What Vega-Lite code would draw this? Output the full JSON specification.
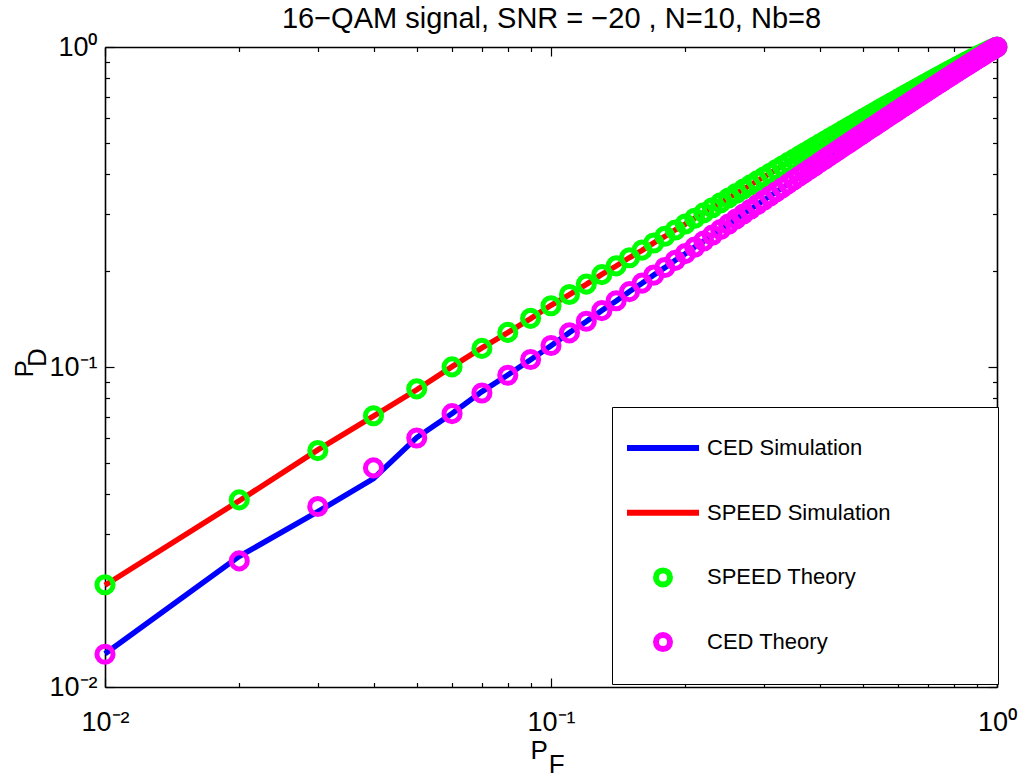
{
  "$schema": "https://vega.github.io/schema/vega-lite/v6.json",
  "width": 892,
  "height": 640,
  "autosize": {"type": "none"},
  "padding": {"left": 105, "top": 47, "right": 25, "bottom": 88},
  "background": "white",
  "config": {"view": {"stroke": null}, "font": "Liberation Sans"},
  "datasets": {
    "sim": [
      {"pf":0.01,"pd":0.0127,"series":"CED Simulation"},{"pf":0.02,"pd":0.0256,"series":"CED Simulation"},{"pf":0.03,"pd":0.0353,"series":"CED Simulation"},{"pf":0.04,"pd":0.0448,"series":"CED Simulation"},{"pf":0.05,"pd":0.0602,"series":"CED Simulation"},{"pf":0.06,"pd":0.0716,"series":"CED Simulation"},{"pf":0.07,"pd":0.0838,"series":"CED Simulation"},{"pf":0.08,"pd":0.0944,"series":"CED Simulation"},{"pf":0.09,"pd":0.1053,"series":"CED Simulation"},{"pf":0.1,"pd":0.1166,"series":"CED Simulation"},
      {"pf":0.11,"pd":0.1282,"series":"CED Simulation"},{"pf":0.12,"pd":0.1387,"series":"CED Simulation"},{"pf":0.13,"pd":0.1502,"series":"CED Simulation"},{"pf":0.14,"pd":0.1608,"series":"CED Simulation"},{"pf":0.15,"pd":0.1722,"series":"CED Simulation"},{"pf":0.16,"pd":0.1827,"series":"CED Simulation"},{"pf":0.17,"pd":0.194,"series":"CED Simulation"},{"pf":0.18,"pd":0.2044,"series":"CED Simulation"},{"pf":0.19,"pd":0.2156,"series":"CED Simulation"},{"pf":0.2,"pd":0.2259,"series":"CED Simulation"},
      {"pf":0.21,"pd":0.2371,"series":"CED Simulation"},{"pf":0.22,"pd":0.2473,"series":"CED Simulation"},{"pf":0.23,"pd":0.2585,"series":"CED Simulation"},{"pf":0.24,"pd":0.2686,"series":"CED Simulation"},{"pf":0.25,"pd":0.2797,"series":"CED Simulation"},{"pf":0.26,"pd":0.2898,"series":"CED Simulation"},{"pf":0.27,"pd":0.3008,"series":"CED Simulation"},{"pf":0.28,"pd":0.3108,"series":"CED Simulation"},{"pf":0.29,"pd":0.3218,"series":"CED Simulation"},{"pf":0.3,"pd":0.3318,"series":"CED Simulation"},
      {"pf":0.31,"pd":0.3427,"series":"CED Simulation"},{"pf":0.32,"pd":0.3526,"series":"CED Simulation"},{"pf":0.33,"pd":0.3634,"series":"CED Simulation"},{"pf":0.34,"pd":0.3733,"series":"CED Simulation"},{"pf":0.35,"pd":0.3841,"series":"CED Simulation"},{"pf":0.36,"pd":0.3939,"series":"CED Simulation"},{"pf":0.37,"pd":0.4047,"series":"CED Simulation"},{"pf":0.38,"pd":0.4144,"series":"CED Simulation"},{"pf":0.39,"pd":0.4252,"series":"CED Simulation"},{"pf":0.4,"pd":0.4349,"series":"CED Simulation"},
      {"pf":0.41,"pd":0.4456,"series":"CED Simulation"},{"pf":0.42,"pd":0.4552,"series":"CED Simulation"},{"pf":0.43,"pd":0.4659,"series":"CED Simulation"},{"pf":0.44,"pd":0.4754,"series":"CED Simulation"},{"pf":0.45,"pd":0.4861,"series":"CED Simulation"},{"pf":0.46,"pd":0.4955,"series":"CED Simulation"},{"pf":0.47,"pd":0.5062,"series":"CED Simulation"},{"pf":0.48,"pd":0.5156,"series":"CED Simulation"},{"pf":0.49,"pd":0.5262,"series":"CED Simulation"},{"pf":0.5,"pd":0.5355,"series":"CED Simulation"},
      {"pf":0.51,"pd":0.5461,"series":"CED Simulation"},{"pf":0.52,"pd":0.5553,"series":"CED Simulation"},{"pf":0.53,"pd":0.5659,"series":"CED Simulation"},{"pf":0.54,"pd":0.5751,"series":"CED Simulation"},{"pf":0.55,"pd":0.5857,"series":"CED Simulation"},{"pf":0.56,"pd":0.5948,"series":"CED Simulation"},{"pf":0.57,"pd":0.6053,"series":"CED Simulation"},{"pf":0.58,"pd":0.6144,"series":"CED Simulation"},{"pf":0.59,"pd":0.6249,"series":"CED Simulation"},{"pf":0.6,"pd":0.6339,"series":"CED Simulation"},
      {"pf":0.61,"pd":0.6444,"series":"CED Simulation"},{"pf":0.62,"pd":0.6533,"series":"CED Simulation"},{"pf":0.63,"pd":0.6638,"series":"CED Simulation"},{"pf":0.64,"pd":0.6727,"series":"CED Simulation"},{"pf":0.65,"pd":0.6831,"series":"CED Simulation"},{"pf":0.66,"pd":0.6919,"series":"CED Simulation"},{"pf":0.67,"pd":0.7023,"series":"CED Simulation"},{"pf":0.68,"pd":0.7111,"series":"CED Simulation"},{"pf":0.69,"pd":0.7214,"series":"CED Simulation"},{"pf":0.7,"pd":0.7301,"series":"CED Simulation"},
      {"pf":0.71,"pd":0.7403,"series":"CED Simulation"},{"pf":0.72,"pd":0.7491,"series":"CED Simulation"},{"pf":0.73,"pd":0.7592,"series":"CED Simulation"},{"pf":0.74,"pd":0.7679,"series":"CED Simulation"},{"pf":0.75,"pd":0.7779,"series":"CED Simulation"},{"pf":0.76,"pd":0.7866,"series":"CED Simulation"},{"pf":0.77,"pd":0.7966,"series":"CED Simulation"},{"pf":0.78,"pd":0.8053,"series":"CED Simulation"},{"pf":0.79,"pd":0.8152,"series":"CED Simulation"},{"pf":0.8,"pd":0.8238,"series":"CED Simulation"},
      {"pf":0.81,"pd":0.8336,"series":"CED Simulation"},{"pf":0.82,"pd":0.8422,"series":"CED Simulation"},{"pf":0.83,"pd":0.8519,"series":"CED Simulation"},{"pf":0.84,"pd":0.8604,"series":"CED Simulation"},{"pf":0.85,"pd":0.8701,"series":"CED Simulation"},{"pf":0.86,"pd":0.8786,"series":"CED Simulation"},{"pf":0.87,"pd":0.8882,"series":"CED Simulation"},{"pf":0.88,"pd":0.8966,"series":"CED Simulation"},{"pf":0.89,"pd":0.9061,"series":"CED Simulation"},{"pf":0.9,"pd":0.9145,"series":"CED Simulation"},
      {"pf":0.91,"pd":0.9239,"series":"CED Simulation"},{"pf":0.92,"pd":0.9322,"series":"CED Simulation"},{"pf":0.93,"pd":0.9414,"series":"CED Simulation"},{"pf":0.94,"pd":0.9496,"series":"CED Simulation"},{"pf":0.95,"pd":0.9587,"series":"CED Simulation"},{"pf":0.96,"pd":0.9668,"series":"CED Simulation"},{"pf":0.97,"pd":0.9757,"series":"CED Simulation"},{"pf":0.98,"pd":0.9836,"series":"CED Simulation"},{"pf":0.99,"pd":0.9922,"series":"CED Simulation"},{"pf":1,"pd":1,"series":"CED Simulation"},
      {"pf":0.01,"pd":0.0208,"series":"SPEED Simulation"},{"pf":0.02,"pd":0.0382,"series":"SPEED Simulation"},{"pf":0.03,"pd":0.0551,"series":"SPEED Simulation"},{"pf":0.04,"pd":0.0702,"series":"SPEED Simulation"},{"pf":0.05,"pd":0.0849,"series":"SPEED Simulation"},{"pf":0.06,"pd":0.1003,"series":"SPEED Simulation"},{"pf":0.07,"pd":0.1147,"series":"SPEED Simulation"},{"pf":0.08,"pd":0.1281,"series":"SPEED Simulation"},{"pf":0.09,"pd":0.1416,"series":"SPEED Simulation"},{"pf":0.1,"pd":0.1559,"series":"SPEED Simulation"},
      {"pf":0.11,"pd":0.1683,"series":"SPEED Simulation"},{"pf":0.12,"pd":0.1812,"series":"SPEED Simulation"},{"pf":0.13,"pd":0.1947,"series":"SPEED Simulation"},{"pf":0.14,"pd":0.2068,"series":"SPEED Simulation"},{"pf":0.15,"pd":0.2199,"series":"SPEED Simulation"},{"pf":0.16,"pd":0.2315,"series":"SPEED Simulation"},{"pf":0.17,"pd":0.2443,"series":"SPEED Simulation"},{"pf":0.18,"pd":0.2558,"series":"SPEED Simulation"},{"pf":0.19,"pd":0.2684,"series":"SPEED Simulation"},{"pf":0.2,"pd":0.2796,"series":"SPEED Simulation"},
      {"pf":0.21,"pd":0.2918,"series":"SPEED Simulation"},{"pf":0.22,"pd":0.3029,"series":"SPEED Simulation"},{"pf":0.23,"pd":0.3149,"series":"SPEED Simulation"},{"pf":0.24,"pd":0.3258,"series":"SPEED Simulation"},{"pf":0.25,"pd":0.3376,"series":"SPEED Simulation"},{"pf":0.26,"pd":0.3483,"series":"SPEED Simulation"},{"pf":0.27,"pd":0.3599,"series":"SPEED Simulation"},{"pf":0.28,"pd":0.3704,"series":"SPEED Simulation"},{"pf":0.29,"pd":0.3819,"series":"SPEED Simulation"},{"pf":0.3,"pd":0.3922,"series":"SPEED Simulation"},
      {"pf":0.31,"pd":0.4035,"series":"SPEED Simulation"},{"pf":0.32,"pd":0.4137,"series":"SPEED Simulation"},{"pf":0.33,"pd":0.4248,"series":"SPEED Simulation"},{"pf":0.34,"pd":0.4349,"series":"SPEED Simulation"},{"pf":0.35,"pd":0.4458,"series":"SPEED Simulation"},{"pf":0.36,"pd":0.4557,"series":"SPEED Simulation"},{"pf":0.37,"pd":0.4666,"series":"SPEED Simulation"},{"pf":0.38,"pd":0.4763,"series":"SPEED Simulation"},{"pf":0.39,"pd":0.4871,"series":"SPEED Simulation"},{"pf":0.4,"pd":0.4966,"series":"SPEED Simulation"},
      {"pf":0.41,"pd":0.5073,"series":"SPEED Simulation"},{"pf":0.42,"pd":0.5167,"series":"SPEED Simulation"},{"pf":0.43,"pd":0.5273,"series":"SPEED Simulation"},{"pf":0.44,"pd":0.5365,"series":"SPEED Simulation"},{"pf":0.45,"pd":0.547,"series":"SPEED Simulation"},{"pf":0.46,"pd":0.5561,"series":"SPEED Simulation"},{"pf":0.47,"pd":0.5664,"series":"SPEED Simulation"},{"pf":0.48,"pd":0.5754,"series":"SPEED Simulation"},{"pf":0.49,"pd":0.5856,"series":"SPEED Simulation"},{"pf":0.5,"pd":0.5946,"series":"SPEED Simulation"},
      {"pf":0.51,"pd":0.6047,"series":"SPEED Simulation"},{"pf":0.52,"pd":0.6135,"series":"SPEED Simulation"},{"pf":0.53,"pd":0.6234,"series":"SPEED Simulation"},{"pf":0.54,"pd":0.6321,"series":"SPEED Simulation"},{"pf":0.55,"pd":0.6419,"series":"SPEED Simulation"},{"pf":0.56,"pd":0.6506,"series":"SPEED Simulation"},{"pf":0.57,"pd":0.6603,"series":"SPEED Simulation"},{"pf":0.58,"pd":0.6688,"series":"SPEED Simulation"},{"pf":0.59,"pd":0.6785,"series":"SPEED Simulation"},{"pf":0.6,"pd":0.6869,"series":"SPEED Simulation"},
      {"pf":0.61,"pd":0.6964,"series":"SPEED Simulation"},{"pf":0.62,"pd":0.7047,"series":"SPEED Simulation"},{"pf":0.63,"pd":0.7141,"series":"SPEED Simulation"},{"pf":0.64,"pd":0.7223,"series":"SPEED Simulation"},{"pf":0.65,"pd":0.7316,"series":"SPEED Simulation"},{"pf":0.66,"pd":0.7397,"series":"SPEED Simulation"},{"pf":0.67,"pd":0.749,"series":"SPEED Simulation"},{"pf":0.68,"pd":0.757,"series":"SPEED Simulation"},{"pf":0.69,"pd":0.7661,"series":"SPEED Simulation"},{"pf":0.7,"pd":0.774,"series":"SPEED Simulation"},
      {"pf":0.71,"pd":0.783,"series":"SPEED Simulation"},{"pf":0.72,"pd":0.7908,"series":"SPEED Simulation"},{"pf":0.73,"pd":0.7997,"series":"SPEED Simulation"},{"pf":0.74,"pd":0.8074,"series":"SPEED Simulation"},{"pf":0.75,"pd":0.8162,"series":"SPEED Simulation"},{"pf":0.76,"pd":0.8238,"series":"SPEED Simulation"},{"pf":0.77,"pd":0.8325,"series":"SPEED Simulation"},{"pf":0.78,"pd":0.84,"series":"SPEED Simulation"},{"pf":0.79,"pd":0.8485,"series":"SPEED Simulation"},{"pf":0.8,"pd":0.8559,"series":"SPEED Simulation"},
      {"pf":0.81,"pd":0.8643,"series":"SPEED Simulation"},{"pf":0.82,"pd":0.8716,"series":"SPEED Simulation"},{"pf":0.83,"pd":0.8799,"series":"SPEED Simulation"},{"pf":0.84,"pd":0.8871,"series":"SPEED Simulation"},{"pf":0.85,"pd":0.8953,"series":"SPEED Simulation"},{"pf":0.86,"pd":0.9023,"series":"SPEED Simulation"},{"pf":0.87,"pd":0.9104,"series":"SPEED Simulation"},{"pf":0.88,"pd":0.9173,"series":"SPEED Simulation"},{"pf":0.89,"pd":0.9253,"series":"SPEED Simulation"},{"pf":0.9,"pd":0.932,"series":"SPEED Simulation"},
      {"pf":0.91,"pd":0.9398,"series":"SPEED Simulation"},{"pf":0.92,"pd":0.9466,"series":"SPEED Simulation"},{"pf":0.93,"pd":0.9541,"series":"SPEED Simulation"},{"pf":0.94,"pd":0.9607,"series":"SPEED Simulation"},{"pf":0.95,"pd":0.968,"series":"SPEED Simulation"},{"pf":0.96,"pd":0.9744,"series":"SPEED Simulation"},{"pf":0.97,"pd":0.9814,"series":"SPEED Simulation"},{"pf":0.98,"pd":0.9876,"series":"SPEED Simulation"},{"pf":0.99,"pd":0.9942,"series":"SPEED Simulation"},{"pf":1,"pd":1,"series":"SPEED Simulation"}
    ],
    "theory": [
      {"pf":0.01,"pd":0.02087,"series":"SPEED Theory"},{"pf":0.02,"pd":0.03843,"series":"SPEED Theory"},{"pf":0.03,"pd":0.0548,"series":"SPEED Theory"},{"pf":0.04,"pd":0.07041,"series":"SPEED Theory"},{"pf":0.05,"pd":0.08547,"series":"SPEED Theory"},{"pf":0.06,"pd":0.10009,"series":"SPEED Theory"},{"pf":0.07,"pd":0.11434,"series":"SPEED Theory"},{"pf":0.08,"pd":0.12828,"series":"SPEED Theory"},{"pf":0.09,"pd":0.14194,"series":"SPEED Theory"},{"pf":0.1,"pd":0.15536,"series":"SPEED Theory"},
      {"pf":0.11,"pd":0.16856,"series":"SPEED Theory"},{"pf":0.12,"pd":0.18156,"series":"SPEED Theory"},{"pf":0.13,"pd":0.19437,"series":"SPEED Theory"},{"pf":0.14,"pd":0.20701,"series":"SPEED Theory"},{"pf":0.15,"pd":0.2195,"series":"SPEED Theory"},{"pf":0.16,"pd":0.23183,"series":"SPEED Theory"},{"pf":0.17,"pd":0.24403,"series":"SPEED Theory"},{"pf":0.18,"pd":0.2561,"series":"SPEED Theory"},{"pf":0.19,"pd":0.26803,"series":"SPEED Theory"},{"pf":0.2,"pd":0.27985,"series":"SPEED Theory"},
      {"pf":0.21,"pd":0.29156,"series":"SPEED Theory"},{"pf":0.22,"pd":0.30315,"series":"SPEED Theory"},{"pf":0.23,"pd":0.31465,"series":"SPEED Theory"},{"pf":0.24,"pd":0.32604,"series":"SPEED Theory"},{"pf":0.25,"pd":0.33733,"series":"SPEED Theory"},{"pf":0.26,"pd":0.34854,"series":"SPEED Theory"},{"pf":0.27,"pd":0.35965,"series":"SPEED Theory"},{"pf":0.28,"pd":0.37067,"series":"SPEED Theory"},{"pf":0.29,"pd":0.38161,"series":"SPEED Theory"},{"pf":0.3,"pd":0.39247,"series":"SPEED Theory"},
      {"pf":0.31,"pd":0.40323,"series":"SPEED Theory"},{"pf":0.32,"pd":0.41394,"series":"SPEED Theory"},{"pf":0.33,"pd":0.42456,"series":"SPEED Theory"},{"pf":0.34,"pd":0.43511,"series":"SPEED Theory"},{"pf":0.35,"pd":0.44558,"series":"SPEED Theory"},{"pf":0.36,"pd":0.45599,"series":"SPEED Theory"},{"pf":0.37,"pd":0.46632,"series":"SPEED Theory"},{"pf":0.38,"pd":0.47659,"series":"SPEED Theory"},{"pf":0.39,"pd":0.4868,"series":"SPEED Theory"},{"pf":0.4,"pd":0.49693,"series":"SPEED Theory"},
      {"pf":0.41,"pd":0.507,"series":"SPEED Theory"},{"pf":0.42,"pd":0.51701,"series":"SPEED Theory"},{"pf":0.43,"pd":0.52695,"series":"SPEED Theory"},{"pf":0.44,"pd":0.53684,"series":"SPEED Theory"},{"pf":0.45,"pd":0.54667,"series":"SPEED Theory"},{"pf":0.46,"pd":0.55643,"series":"SPEED Theory"},{"pf":0.47,"pd":0.56614,"series":"SPEED Theory"},{"pf":0.48,"pd":0.57579,"series":"SPEED Theory"},{"pf":0.49,"pd":0.58538,"series":"SPEED Theory"},{"pf":0.5,"pd":0.59491,"series":"SPEED Theory"},
      {"pf":0.51,"pd":0.60439,"series":"SPEED Theory"},{"pf":0.52,"pd":0.61381,"series":"SPEED Theory"},{"pf":0.53,"pd":0.62318,"series":"SPEED Theory"},{"pf":0.54,"pd":0.6325,"series":"SPEED Theory"},{"pf":0.55,"pd":0.64175,"series":"SPEED Theory"},{"pf":0.56,"pd":0.65096,"series":"SPEED Theory"},{"pf":0.57,"pd":0.66012,"series":"SPEED Theory"},{"pf":0.58,"pd":0.66921,"series":"SPEED Theory"},{"pf":0.59,"pd":0.67827,"series":"SPEED Theory"},{"pf":0.6,"pd":0.68726,"series":"SPEED Theory"},
      {"pf":0.61,"pd":0.69621,"series":"SPEED Theory"},{"pf":0.62,"pd":0.70509,"series":"SPEED Theory"},{"pf":0.63,"pd":0.71393,"series":"SPEED Theory"},{"pf":0.64,"pd":0.72272,"series":"SPEED Theory"},{"pf":0.65,"pd":0.73146,"series":"SPEED Theory"},{"pf":0.66,"pd":0.74014,"series":"SPEED Theory"},{"pf":0.67,"pd":0.74878,"series":"SPEED Theory"},{"pf":0.68,"pd":0.75736,"series":"SPEED Theory"},{"pf":0.69,"pd":0.76589,"series":"SPEED Theory"},{"pf":0.7,"pd":0.77437,"series":"SPEED Theory"},
      {"pf":0.71,"pd":0.7828,"series":"SPEED Theory"},{"pf":0.72,"pd":0.79118,"series":"SPEED Theory"},{"pf":0.73,"pd":0.7995,"series":"SPEED Theory"},{"pf":0.74,"pd":0.80778,"series":"SPEED Theory"},{"pf":0.75,"pd":0.81599,"series":"SPEED Theory"},{"pf":0.76,"pd":0.82416,"series":"SPEED Theory"},{"pf":0.77,"pd":0.83227,"series":"SPEED Theory"},{"pf":0.78,"pd":0.84033,"series":"SPEED Theory"},{"pf":0.79,"pd":0.84833,"series":"SPEED Theory"},{"pf":0.8,"pd":0.85628,"series":"SPEED Theory"},
      {"pf":0.81,"pd":0.86417,"series":"SPEED Theory"},{"pf":0.82,"pd":0.872,"series":"SPEED Theory"},{"pf":0.83,"pd":0.87977,"series":"SPEED Theory"},{"pf":0.84,"pd":0.88749,"series":"SPEED Theory"},{"pf":0.85,"pd":0.89514,"series":"SPEED Theory"},{"pf":0.86,"pd":0.90274,"series":"SPEED Theory"},{"pf":0.87,"pd":0.91026,"series":"SPEED Theory"},{"pf":0.88,"pd":0.91773,"series":"SPEED Theory"},{"pf":0.89,"pd":0.92512,"series":"SPEED Theory"},{"pf":0.9,"pd":0.93244,"series":"SPEED Theory"},
      {"pf":0.91,"pd":0.93968,"series":"SPEED Theory"},{"pf":0.92,"pd":0.94685,"series":"SPEED Theory"},{"pf":0.93,"pd":0.95394,"series":"SPEED Theory"},{"pf":0.94,"pd":0.96093,"series":"SPEED Theory"},{"pf":0.95,"pd":0.96782,"series":"SPEED Theory"},{"pf":0.96,"pd":0.9746,"series":"SPEED Theory"},{"pf":0.97,"pd":0.98126,"series":"SPEED Theory"},{"pf":0.98,"pd":0.98777,"series":"SPEED Theory"},{"pf":0.99,"pd":0.99407,"series":"SPEED Theory"},{"pf":1,"pd":1,"series":"SPEED Theory"},
      {"pf":0.01,"pd":0.01266,"series":"CED Theory"},{"pf":0.02,"pd":0.02478,"series":"CED Theory"},{"pf":0.03,"pd":0.03666,"series":"CED Theory"},{"pf":0.04,"pd":0.04839,"series":"CED Theory"},{"pf":0.05,"pd":0.05999,"series":"CED Theory"},{"pf":0.06,"pd":0.07149,"series":"CED Theory"},{"pf":0.07,"pd":0.08291,"series":"CED Theory"},{"pf":0.08,"pd":0.09424,"series":"CED Theory"},{"pf":0.09,"pd":0.10551,"series":"CED Theory"},{"pf":0.1,"pd":0.11672,"series":"CED Theory"},
      {"pf":0.11,"pd":0.12787,"series":"CED Theory"},{"pf":0.12,"pd":0.13897,"series":"CED Theory"},{"pf":0.13,"pd":0.15001,"series":"CED Theory"},{"pf":0.14,"pd":0.16101,"series":"CED Theory"},{"pf":0.15,"pd":0.17197,"series":"CED Theory"},{"pf":0.16,"pd":0.18288,"series":"CED Theory"},{"pf":0.17,"pd":0.19375,"series":"CED Theory"},{"pf":0.18,"pd":0.20458,"series":"CED Theory"},{"pf":0.19,"pd":0.21538,"series":"CED Theory"},{"pf":0.2,"pd":0.22614,"series":"CED Theory"},
      {"pf":0.21,"pd":0.23687,"series":"CED Theory"},{"pf":0.22,"pd":0.24756,"series":"CED Theory"},{"pf":0.23,"pd":0.25822,"series":"CED Theory"},{"pf":0.24,"pd":0.26885,"series":"CED Theory"},{"pf":0.25,"pd":0.27945,"series":"CED Theory"},{"pf":0.26,"pd":0.29002,"series":"CED Theory"},{"pf":0.27,"pd":0.30056,"series":"CED Theory"},{"pf":0.28,"pd":0.31106,"series":"CED Theory"},{"pf":0.29,"pd":0.32155,"series":"CED Theory"},{"pf":0.3,"pd":0.332,"series":"CED Theory"},
      {"pf":0.31,"pd":0.34243,"series":"CED Theory"},{"pf":0.32,"pd":0.35283,"series":"CED Theory"},{"pf":0.33,"pd":0.3632,"series":"CED Theory"},{"pf":0.34,"pd":0.37355,"series":"CED Theory"},{"pf":0.35,"pd":0.38388,"series":"CED Theory"},{"pf":0.36,"pd":0.39418,"series":"CED Theory"},{"pf":0.37,"pd":0.40445,"series":"CED Theory"},{"pf":0.38,"pd":0.4147,"series":"CED Theory"},{"pf":0.39,"pd":0.42492,"series":"CED Theory"},{"pf":0.4,"pd":0.43512,"series":"CED Theory"},
      {"pf":0.41,"pd":0.4453,"series":"CED Theory"},{"pf":0.42,"pd":0.45545,"series":"CED Theory"},{"pf":0.43,"pd":0.46559,"series":"CED Theory"},{"pf":0.44,"pd":0.47569,"series":"CED Theory"},{"pf":0.45,"pd":0.48578,"series":"CED Theory"},{"pf":0.46,"pd":0.49584,"series":"CED Theory"},{"pf":0.47,"pd":0.50588,"series":"CED Theory"},{"pf":0.48,"pd":0.51589,"series":"CED Theory"},{"pf":0.49,"pd":0.52589,"series":"CED Theory"},{"pf":0.5,"pd":0.53586,"series":"CED Theory"},
      {"pf":0.51,"pd":0.54581,"series":"CED Theory"},{"pf":0.52,"pd":0.55573,"series":"CED Theory"},{"pf":0.53,"pd":0.56563,"series":"CED Theory"},{"pf":0.54,"pd":0.57551,"series":"CED Theory"},{"pf":0.55,"pd":0.58537,"series":"CED Theory"},{"pf":0.56,"pd":0.59521,"series":"CED Theory"},{"pf":0.57,"pd":0.60502,"series":"CED Theory"},{"pf":0.58,"pd":0.61482,"series":"CED Theory"},{"pf":0.59,"pd":0.62458,"series":"CED Theory"},{"pf":0.6,"pd":0.63433,"series":"CED Theory"},
      {"pf":0.61,"pd":0.64406,"series":"CED Theory"},{"pf":0.62,"pd":0.65375,"series":"CED Theory"},{"pf":0.63,"pd":0.66343,"series":"CED Theory"},{"pf":0.64,"pd":0.67309,"series":"CED Theory"},{"pf":0.65,"pd":0.68272,"series":"CED Theory"},{"pf":0.66,"pd":0.69233,"series":"CED Theory"},{"pf":0.67,"pd":0.70191,"series":"CED Theory"},{"pf":0.68,"pd":0.71147,"series":"CED Theory"},{"pf":0.69,"pd":0.72101,"series":"CED Theory"},{"pf":0.7,"pd":0.73052,"series":"CED Theory"},
      {"pf":0.71,"pd":0.74001,"series":"CED Theory"},{"pf":0.72,"pd":0.74948,"series":"CED Theory"},{"pf":0.73,"pd":0.75891,"series":"CED Theory"},{"pf":0.74,"pd":0.76833,"series":"CED Theory"},{"pf":0.75,"pd":0.77771,"series":"CED Theory"},{"pf":0.76,"pd":0.78707,"series":"CED Theory"},{"pf":0.77,"pd":0.7964,"series":"CED Theory"},{"pf":0.78,"pd":0.80571,"series":"CED Theory"},{"pf":0.79,"pd":0.81499,"series":"CED Theory"},{"pf":0.8,"pd":0.82423,"series":"CED Theory"},
      {"pf":0.81,"pd":0.83345,"series":"CED Theory"},{"pf":0.82,"pd":0.84264,"series":"CED Theory"},{"pf":0.83,"pd":0.85179,"series":"CED Theory"},{"pf":0.84,"pd":0.86092,"series":"CED Theory"},{"pf":0.85,"pd":0.87001,"series":"CED Theory"},{"pf":0.86,"pd":0.87906,"series":"CED Theory"},{"pf":0.87,"pd":0.88808,"series":"CED Theory"},{"pf":0.88,"pd":0.89706,"series":"CED Theory"},{"pf":0.89,"pd":0.906,"series":"CED Theory"},{"pf":0.9,"pd":0.9149,"series":"CED Theory"},
      {"pf":0.91,"pd":0.92375,"series":"CED Theory"},{"pf":0.92,"pd":0.93255,"series":"CED Theory"},{"pf":0.93,"pd":0.9413,"series":"CED Theory"},{"pf":0.94,"pd":0.94999,"series":"CED Theory"},{"pf":0.95,"pd":0.95862,"series":"CED Theory"},{"pf":0.96,"pd":0.96717,"series":"CED Theory"},{"pf":0.97,"pd":0.97563,"series":"CED Theory"},{"pf":0.98,"pd":0.98397,"series":"CED Theory"},{"pf":0.99,"pd":0.99216,"series":"CED Theory"},{"pf":1,"pd":1,"series":"CED Theory"}
    ]
  },
  "resolve": {"axis": {"x": "independent", "y": "independent"}},
  "layer": [
    {
      "data": {"name": "sim"},
      "mark": {"type": "line", "strokeWidth": 5.5},
      "encoding": {
        "x": {"field": "pf", "type": "quantitative",
          "scale": {"type": "log", "domain": [0.01, 1], "nice": false},
          "axis": {"orient": "bottom", "values": [0.01,0.02,0.03,0.04,0.05,0.06,0.07,0.08,0.09,0.1,0.2,0.3,0.4,0.5,0.6,0.7,0.8,0.9,1],
            "labelExpr": "datum.value == 0.01 ? '10⁻²' : datum.value == 0.1 ? '10⁻¹' : datum.value == 1 ? '10⁰' : ''",
            "grid": false, "tickSize": -9, "tickWidth": 1.2, "tickColor": "black",
            "tickDash": {"condition": {"test": "datum.value == 0.01 || datum.value == 0.1 || datum.value == 1", "value": [20, 0]}, "value": [4.5, 30]},
            "domainColor": "black", "domainWidth": 1.6,
            "labelFont": "Liberation Sans", "labelFontSize": 27, "labelColor": "black", "labelBaseline": "alphabetic", "labelPadding": 52,
            "labelFlush": false, "labelOverlap": false, "labelBound": false,
            "title": ["P", "\u200b\u2002\u2009F"], "titleFont": "Liberation Sans", "titleFontSize": 26, "titleFontWeight": "normal", "titleColor": "black",
            "titleAlign": "left", "titleBaseline": "alphabetic", "titleX": 425, "titleY": 71, "titleLineHeight": 14}},
        "y": {"field": "pd", "type": "quantitative",
          "scale": {"type": "log", "domain": [0.01, 1], "nice": false},
          "axis": {"orient": "left", "values": [0.01,0.02,0.03,0.04,0.05,0.06,0.07,0.08,0.09,0.1,0.2,0.3,0.4,0.5,0.6,0.7,0.8,0.9,1],
            "labelExpr": "datum.value == 0.01 ? '10⁻²' : datum.value == 0.1 ? '10⁻¹' : datum.value == 1 ? '10⁰' : ''",
            "grid": false, "tickSize": -9, "tickWidth": 1.2, "tickColor": "black",
            "tickDash": {"condition": {"test": "datum.value == 0.01 || datum.value == 0.1 || datum.value == 1", "value": [20, 0]}, "value": [4.5, 30]},
            "domainColor": "black", "domainWidth": 1.6,
            "labelFont": "Liberation Sans", "labelFontSize": 27, "labelColor": "black", "labelPadding": 17,
            "labelFlush": false, "labelOverlap": false, "labelBound": false,
            "title": ["P", "\u200b\u2009\u2009D"], "titleFont": "Liberation Sans", "titleFontSize": 26, "titleFontWeight": "normal", "titleColor": "black",
            "titleAngle": 270, "titleAlign": "left", "titleBaseline": "alphabetic", "titleX": -73, "titleY": 330, "titleLineHeight": 13}},
        "stroke": {"field": "series", "type": "nominal",
          "scale": {"domain": ["CED Simulation", "SPEED Simulation"], "range": ["#0000ff", "#ff0000"]},
          "legend": null}
      }
    },
    {
      "data": {"name": "theory"},
      "mark": {"type": "point", "filled": false, "size": 260, "strokeWidth": 5, "opacity": 1},
      "encoding": {
        "x": {"field": "pf", "type": "quantitative",
          "scale": {"type": "log", "domain": [0.01, 1], "nice": false},
          "axis": {"orient": "top", "values": [0.01,0.02,0.03,0.04,0.05,0.06,0.07,0.08,0.09,0.1,0.2,0.3,0.4,0.5,0.6,0.7,0.8,0.9,1],
            "labels": false, "grid": false, "tickSize": -9, "tickWidth": 1.2, "tickColor": "black",
            "tickDash": {"condition": {"test": "datum.value == 0.01 || datum.value == 0.1 || datum.value == 1", "value": [20, 0]}, "value": [4.5, 30]},
            "domainColor": "black", "domainWidth": 1.6,
            "title": "16−QAM signal, SNR = −20 , N=10, Nb=8", "titleFont": "Liberation Sans", "titleFontSize": 29, "titleFontWeight": "normal", "titleColor": "black",
            "titleAlign": "center", "titleBaseline": "alphabetic", "titleAngle": 0, "titleX": 446, "titleY": -20}},
        "y": {"field": "pd", "type": "quantitative",
          "scale": {"type": "log", "domain": [0.01, 1], "nice": false},
          "axis": {"orient": "right", "values": [0.01,0.02,0.03,0.04,0.05,0.06,0.07,0.08,0.09,0.1,0.2,0.3,0.4,0.5,0.6,0.7,0.8,0.9,1],
            "labels": false, "grid": false, "tickSize": -9, "tickWidth": 1.2, "tickColor": "black",
            "tickDash": {"condition": {"test": "datum.value == 0.01 || datum.value == 0.1 || datum.value == 1", "value": [20, 0]}, "value": [4.5, 30]},
            "domainColor": "black", "domainWidth": 1.6, "title": null}},
        "color": {"field": "series", "type": "nominal",
          "scale": {"domain": ["CED Simulation", "SPEED Simulation", "SPEED Theory", "CED Theory"], "range": ["#0000ff", "#ff0000", "#00ff00", "#ff00ff"]},
          "legend": {"orient": "none", "legendX": 507, "legendY": 360, "title": null,
            "labelFont": "Liberation Sans", "labelFontSize": 22, "labelColor": "black", "labelLimit": 500,
            "labelExpr": "datum.label + '\u00a0\u00a0\u00a0\u00a0\u00a0\u00a0\u00a0\u00a0\u00a0\u00a0\u00a0\u00a0\u00a0\u00a0\u00a0\u200b'",
            "symbolSize": 196, "symbolStrokeWidth": 6, "symbolFillColor": "transparent",
            "padding": 15, "rowPadding": 12.7, "gridAlign": "all", "clipHeight": 52, "labelOffset": 33, "symbolOffset": 25,
            "strokeColor": "black", "fillColor": "white"}},
        "shape": {"field": "series", "type": "nominal",
          "scale": {"domain": ["CED Simulation", "SPEED Simulation", "SPEED Theory", "CED Theory"], "range": ["M-5.15,0H5.15", "M-5.15,0H5.15", "circle", "circle"]},
          "legend": {"orient": "none", "legendX": 507, "legendY": 360, "title": null,
            "labelFont": "Liberation Sans", "labelFontSize": 22, "labelColor": "black", "labelLimit": 500,
            "labelExpr": "datum.label + '\u00a0\u00a0\u00a0\u00a0\u00a0\u00a0\u00a0\u00a0\u00a0\u00a0\u00a0\u00a0\u00a0\u00a0\u00a0\u200b'",
            "symbolSize": 196, "symbolStrokeWidth": 6, "symbolFillColor": "transparent",
            "padding": 15, "rowPadding": 12.7, "gridAlign": "all", "clipHeight": 52, "labelOffset": 33, "symbolOffset": 25,
            "strokeColor": "black", "fillColor": "white"}}
      }
    }
  ]
}
